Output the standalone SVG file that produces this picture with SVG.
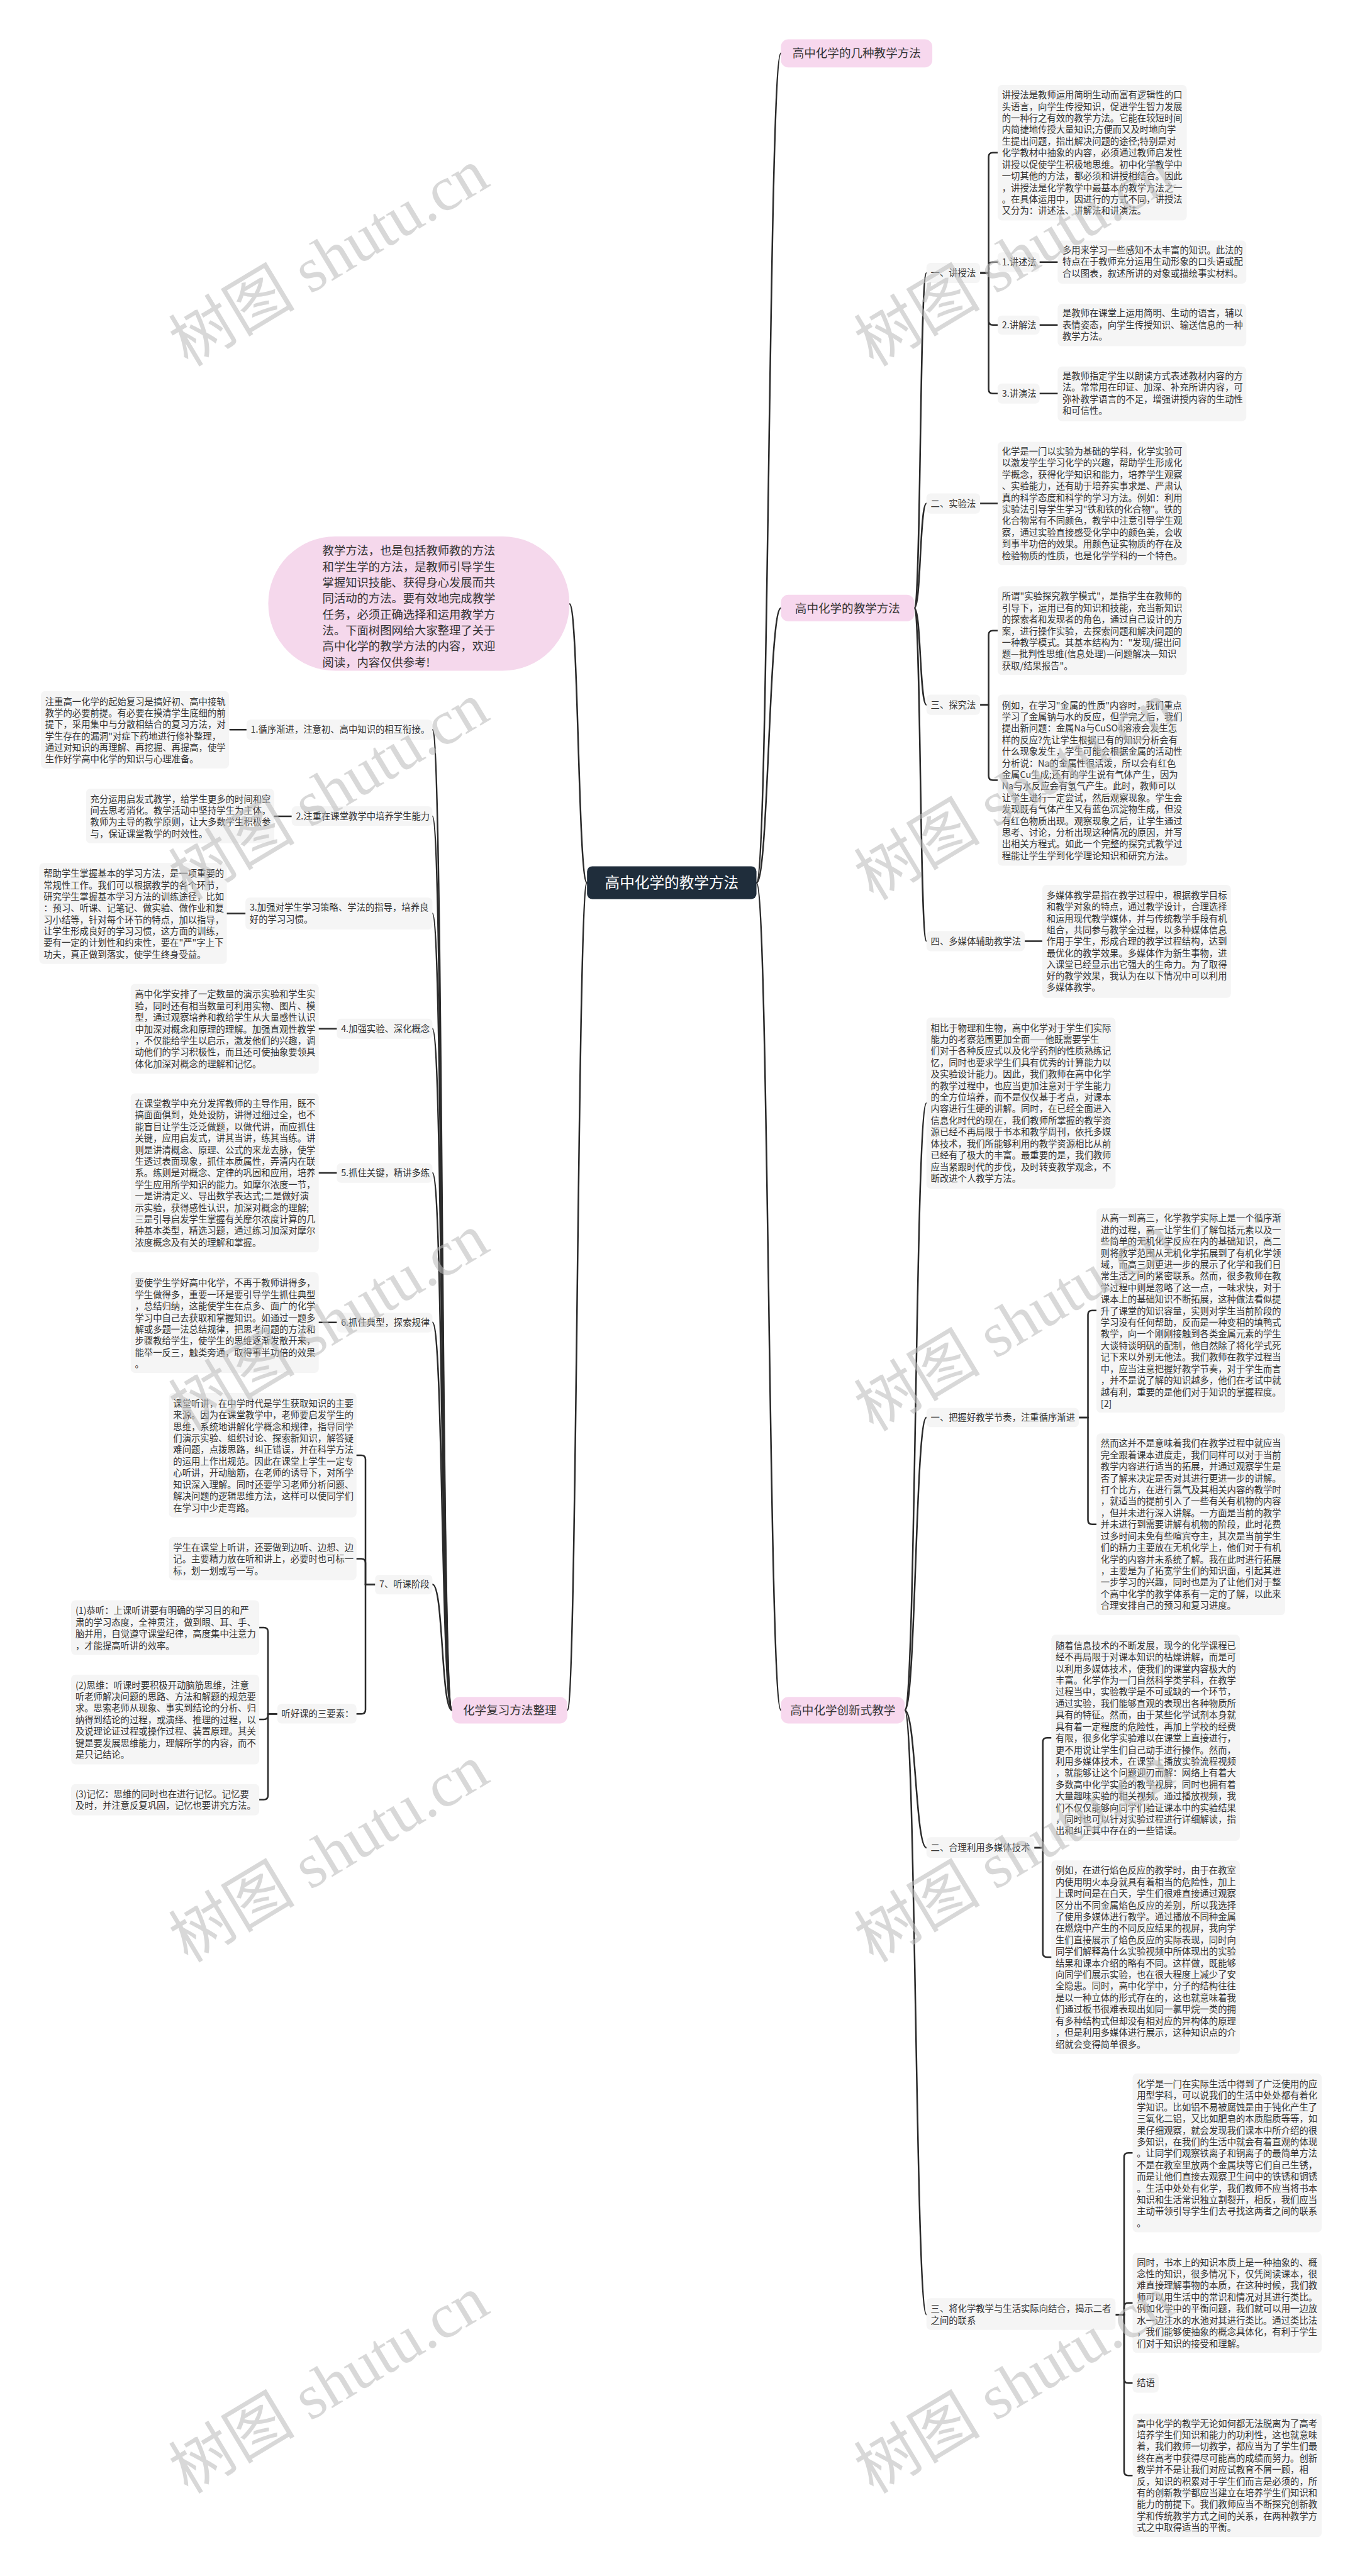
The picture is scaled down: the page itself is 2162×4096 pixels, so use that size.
<svg xmlns="http://www.w3.org/2000/svg" width="2162" height="4096" viewBox="0 0 2162 4096">
<style>
.t{font-family:"Noto Sans CJK SC","Noto Sans",sans-serif;font-size:17px;fill:#333}
.b{fill:#f5f5f5}
.c{fill:none;stroke:#2b2b2b;stroke-width:3;stroke-linecap:round}
.pk{fill:#f7d8ee}
.mt{font-family:"Noto Sans CJK SC","Noto Sans",sans-serif;font-size:22px;fill:#333;text-anchor:middle}
.wm{font-family:"Liberation Serif","Noto Sans CJK SC",serif;font-size:119px;fill:#bcbcbc;fill-opacity:0.58;text-anchor:middle}
</style>
<rect width="2162" height="4096" fill="#fff"/>
<g transform="scale(0.8445)">
<g id="connectors">
<path class="c" d="M1424,1662 C1447,1662 1447,100 1470,100"/>
<path class="c" d="M1424,1662 C1447,1662 1447,1145 1470,1145"/>
<path class="c" d="M1424,1662 C1447,1662 1447,3220 1470,3220"/>
<path class="c" d="M1105,1662 C1088,1662 1089,1137 1072,1137"/>
<path class="c" d="M1105,1662 C1087,1662 1086,3220 1068,3220"/>
<path class="c" d="M1721,1145 C1734,1145 1731,514 1744,514"/>
<path class="c" d="M1721,1145 C1734,1145 1731,948 1744,948"/>
<path class="c" d="M1721,1145 C1734,1145 1731,1327 1744,1327"/>
<path class="c" d="M1721,1145 C1734,1145 1731,1772 1744,1772"/>
<path class="c" d="M1845,514 H1861 V295.5 Q1861,287.5 1869,287.5 H1878"/>
<path class="c" d="M1845,514 H1861 V501.5 Q1861,493.5 1869,493.5 H1878"/>
<path class="c" d="M1845,514 H1861 V604 Q1861,612 1869,612 H1878"/>
<path class="c" d="M1845,514 H1861 V733 Q1861,741 1869,741 H1878"/>
<path class="c" d="M1957,493.5 H1991 M1957,612 H1991 M1957,741 H1991"/>
<path class="c" d="M1845,948 H1878"/>
<path class="c" d="M1845,1327 H1861 V1195.5 Q1861,1187.5 1869,1187.5 H1878"/>
<path class="c" d="M1845,1327 H1861 V1461 Q1861,1469 1869,1469 H1878"/>
<path class="c" d="M1929,1772 H1962"/>
<path class="c" d="M1703,3220 C1724,3220 1723,2077 1744,2077"/>
<path class="c" d="M1703,3220 C1724,3220 1723,2669 1744,2669"/>
<path class="c" d="M1703,3220 C1724,3220 1723,3479 1744,3479"/>
<path class="c" d="M1703,3220 C1724,3220 1723,4358 1744,4358"/>
<path class="c" d="M2031,2669 H2048 V2475.5 Q2048,2467.5 2056,2467.5 H2064"/>
<path class="c" d="M2031,2669 H2048 V2862 Q2048,2870 2056,2870 H2064"/>
<path class="c" d="M1947,3479 H1963 V3280 Q1963,3272 1971,3272 H1979"/>
<path class="c" d="M1947,3479 H1963 V3677 Q1963,3685 1971,3685 H1979"/>
<path class="c" d="M2100,4358 H2116 V4061.5 Q2116,4053.5 2124,4053.5 H2132"/>
<path class="c" d="M2100,4358 H2116 V4344 Q2116,4336 2124,4336 H2132"/>
<path class="c" d="M2100,4358 H2116 V4479 Q2116,4487 2124,4487 H2132"/>
<path class="c" d="M2100,4358 H2116 V4653 Q2116,4661 2124,4661 H2132"/>
<path class="c" d="M851,3220 C830,3220 835,1374 814,1374"/>
<path class="c" d="M851,3220 C830,3220 835,1537 814,1537"/>
<path class="c" d="M851,3220 C830,3220 835,1720 814,1720"/>
<path class="c" d="M851,3220 C830,3220 835,1937 814,1937"/>
<path class="c" d="M851,3220 C830,3220 835,2208.5 814,2208.5"/>
<path class="c" d="M851,3220 C830,3220 835,2490 814,2490"/>
<path class="c" d="M851,3220 C830,3220 835,2983 814,2983"/>
<path class="c" d="M464,1374 H433 M549,1537 H516 M462,1720 H427 M634,1937 H600 M634,2208.5 H600 M634,2490 H600"/>
<path class="c" d="M706,2983 H688 V2748 Q688,2740 680,2740 H671"/>
<path class="c" d="M706,2983 H688 V2943 Q688,2935 680,2935 H671"/>
<path class="c" d="M706,2983 H688 V3219 Q688,3227 680,3227 H671"/>
<path class="c" d="M522,3227 H504.5 V3072.5 Q504.5,3064.5 496.5,3064.5 H488"/>
<path class="c" d="M522,3227 H504.5 V3229.5 Q504.5,3237.5 496.5,3237.5 H488"/>
<path class="c" d="M522,3227 H504.5 V3380.5 Q504.5,3388.5 496.5,3388.5 H488"/>
</g>

<g id="root"><rect x="1105" y="1631" width="319" height="62" rx="10" fill="#1f2d3b"/><text x="1264.5" y="1672" style="font-family:'Noto Sans CJK SC',sans-serif;font-size:28px;fill:#fff;text-anchor:middle">高中化学的教学方法</text></g>
<g id="intro"><rect x="505" y="1010" width="567" height="253" rx="126" fill="#f5d8ec"/>
<text style="font-family:'Noto Sans CJK SC',sans-serif;font-size:21.7px;fill:#333" x="607" y="1044.7"><tspan x="607">教学方法，也是包括教师教的方法</tspan><tspan x="607" dy="30">和学生学的方法，是教师引导学生</tspan><tspan x="607" dy="30">掌握知识技能、获得身心发展而共</tspan><tspan x="607" dy="30">同活动的方法。要有效地完成教学</tspan><tspan x="607" dy="30">任务，必须正确选择和运用教学方</tspan><tspan x="607" dy="30">法。下面树图网给大家整理了关于</tspan><tspan x="607" dy="30">高中化学的教学方法的内容，欢迎</tspan><tspan x="607" dy="30">阅读，内容仅供参考!</tspan></text></g>

<g id="mainA"><rect class="pk" x="1470" y="74" width="285" height="53" rx="14"/><text class="mt" x="1612.5" y="108">高中化学的几种教学方法</text></g>
<g id="mainB"><rect class="pk" x="1470" y="1120" width="251" height="50" rx="14"/><text class="mt" x="1595.5" y="1153">高中化学的教学方法</text></g>
<g id="mainC"><rect class="pk" x="851" y="3195" width="217" height="50" rx="14"/><text class="mt" x="959.5" y="3228">化学复习方法整理</text></g>
<g id="mainD"><rect class="pk" x="1470" y="3195" width="233" height="50" rx="14"/><text class="mt" x="1586.5" y="3228">高中化学创新式教学</text></g>

<g id="n-jsf"><rect class="b" x="1744" y="495" width="101" height="38" rx="8"/><text class="t" x="1752" y="520">一、讲授法</text></g>
<g id="n-jsf-d"><rect class="b" x="1878" y="160" width="356" height="255" rx="8"/><text class="t" x="1886" y="185"><tspan x="1886">讲授法是教师运用简明生动而富有逻辑性的口</tspan><tspan x="1886" dy="21.8">头语言，向学生传授知识，促进学生智力发展</tspan><tspan x="1886" dy="21.8">的一种行之有效的教学方法。它能在较短时间</tspan><tspan x="1886" dy="21.8">内简捷地传授大量知识;方便而又及时地向学</tspan><tspan x="1886" dy="21.8">生提出问题，指出解决问题的途径;特别是对</tspan><tspan x="1886" dy="21.8">化学教材中抽象的内容，必须通过教师启发性</tspan><tspan x="1886" dy="21.8">讲授以促使学生积极地思维。初中化学教学中</tspan><tspan x="1886" dy="21.8">一切其他的方法，都必须和讲授相结合。因此</tspan><tspan x="1886" dy="21.8">，讲授法是化学教学中最基本的教学方法之一</tspan><tspan x="1886" dy="21.8">。在具体运用中，因进行的方式不同，讲授法</tspan><tspan x="1886" dy="21.8">又分为：讲述法、讲解法和讲演法。</tspan></text></g>
<g id="n-js1"><rect class="b" x="1878" y="475" width="79" height="37" rx="8"/><text class="t" x="1886" y="499.5">1.讲述法</text></g>
<g id="n-js1-d"><rect class="b" x="1991" y="453" width="355" height="81" rx="8"/><text class="t" x="2000" y="477"><tspan x="2000">多用来学习一些感知不太丰富的知识。此法的</tspan><tspan x="2000" dy="21.8">特点在于教师充分运用生动形象的口头语或配</tspan><tspan x="2000" dy="21.8">合以图表，叙述所讲的对象或描绘事实材料。</tspan></text></g>
<g id="n-js2"><rect class="b" x="1878" y="594" width="79" height="36" rx="8"/><text class="t" x="1886" y="618">2.讲解法</text></g>
<g id="n-js2-d"><rect class="b" x="1991" y="572" width="355" height="80" rx="8"/><text class="t" x="2000" y="596"><tspan x="2000">是教师在课堂上运用简明、生动的语言，辅以</tspan><tspan x="2000" dy="21.8">表情姿态，向学生传授知识、输送信息的一种</tspan><tspan x="2000" dy="21.8">教学方法。</tspan></text></g>
<g id="n-js3"><rect class="b" x="1878" y="722" width="79" height="38" rx="8"/><text class="t" x="1886" y="747">3.讲演法</text></g>
<g id="n-js3-d"><rect class="b" x="1991" y="690" width="355" height="103" rx="8"/><text class="t" x="2000" y="714"><tspan x="2000">是教师指定学生以朗读方式表述教材内容的方</tspan><tspan x="2000" dy="21.8">法。常常用在印证、加深、补充所讲内容，可</tspan><tspan x="2000" dy="21.8">弥补教学语言的不足，增强讲授内容的生动性</tspan><tspan x="2000" dy="21.8">和可信性。</tspan></text></g>

<g id="n-syf"><rect class="b" x="1744" y="929" width="101" height="38" rx="8"/><text class="t" x="1752" y="954">二、实验法</text></g>
<g id="n-syf-d"><rect class="b" x="1878" y="832" width="356" height="232" rx="8"/><text class="t" x="1886" y="856"><tspan x="1886">化学是一门以实验为基础的学科，化学实验可</tspan><tspan x="1886" dy="21.8">以激发学生学习化学的兴趣，帮助学生形成化</tspan><tspan x="1886" dy="21.8">学概念，获得化学知识和能力，培养学生观察</tspan><tspan x="1886" dy="21.8">、实验能力，还有助于培养实事求是、严肃认</tspan><tspan x="1886" dy="21.8">真的科学态度和科学的学习方法。例如：利用</tspan><tspan x="1886" dy="21.8">实验法引导学生学习"铁和铁的化合物"。铁的</tspan><tspan x="1886" dy="21.8">化合物常有不同颜色，教学中注意引导学生观</tspan><tspan x="1886" dy="21.8">察，通过实验直接感受化学中的颜色美，会收</tspan><tspan x="1886" dy="21.8">到事半功倍的效果。用颜色证实物质的存在及</tspan><tspan x="1886" dy="21.8">检验物质的性质，也是化学学科的一个特色。</tspan></text></g>

<g id="n-tjf"><rect class="b" x="1744" y="1308" width="101" height="38" rx="8"/><text class="t" x="1752" y="1333">三、探究法</text></g>
<g id="n-tjf-a"><rect class="b" x="1878" y="1104" width="356" height="167" rx="8"/><text class="t" x="1886" y="1129"><tspan x="1886">所谓"实验探究教学模式"，是指学生在教师的</tspan><tspan x="1886" dy="21.8">引导下，运用已有的知识和技能，充当新知识</tspan><tspan x="1886" dy="21.8">的探索者和发现者的角色，通过自己设计的方</tspan><tspan x="1886" dy="21.8">案，进行操作实验，去探索问题和解决问题的</tspan><tspan x="1886" dy="21.8">一种教学模式。其基本结构为："发现/提出问</tspan><tspan x="1886" dy="21.8">题—批判性思维(信息处理)—问题解决—知识</tspan><tspan x="1886" dy="21.8">获取/结果报告"。</tspan></text></g>
<g id="n-tjf-b"><rect class="b" x="1878" y="1308" width="356" height="322" rx="8"/><text class="t" x="1886" y="1334"><tspan x="1886">例如，在学习"金属的性质"内容时，我们重点</tspan><tspan x="1886" dy="21.8">学习了金属钠与水的反应，但学完之后，我们</tspan><tspan x="1886" dy="21.8">提出新问题：金属Na与CuSO4溶液会发生怎</tspan><tspan x="1886" dy="21.8">样的反应?先让学生根据已有的知识分析会有</tspan><tspan x="1886" dy="21.8">什么现象发生，学生可能会根据金属的活动性</tspan><tspan x="1886" dy="21.8">分析说：Na的金属性很活泼，所以会有红色</tspan><tspan x="1886" dy="21.8">金属Cu生成;还有的学生说有气体产生，因为</tspan><tspan x="1886" dy="21.8">Na与水反应会有氢气产生。此时，教师可以</tspan><tspan x="1886" dy="21.8">让学生进行一定尝试，然后观察现象。学生会</tspan><tspan x="1886" dy="21.8">发现既有气体产生又有蓝色沉淀物生成，但没</tspan><tspan x="1886" dy="21.8">有红色物质出现。观察现象之后，让学生通过</tspan><tspan x="1886" dy="21.8">思考、讨论，分析出现这种情况的原因，并写</tspan><tspan x="1886" dy="21.8">出相关方程式。如此一个完整的探究式教学过</tspan><tspan x="1886" dy="21.8">程能让学生学到化学理论知识和研究方法。</tspan></text></g>

<g id="n-dmt"><rect class="b" x="1744" y="1753" width="185" height="38" rx="8"/><text class="t" x="1752" y="1778">四、多媒体辅助教学法</text></g>
<g id="n-dmt-d"><rect class="b" x="1962" y="1666" width="355" height="213" rx="8"/><text class="t" x="1970" y="1692"><tspan x="1970">多媒体教学是指在教学过程中，根据教学目标</tspan><tspan x="1970" dy="21.7">和教学对象的特点，通过教学设计，合理选择</tspan><tspan x="1970" dy="21.7">和运用现代教学媒体，并与传统教学手段有机</tspan><tspan x="1970" dy="21.7">组合，共同参与教学全过程，以多种媒体信息</tspan><tspan x="1970" dy="21.7">作用于学生，形成合理的教学过程结构，达到</tspan><tspan x="1970" dy="21.7">最优化的教学效果。多媒体作为新生事物，进</tspan><tspan x="1970" dy="21.7">入课堂已经显示出它强大的生命力。为了取得</tspan><tspan x="1970" dy="21.7">好的教学效果，我认为在以下情况中可以利用</tspan><tspan x="1970" dy="21.7">多媒体教学。</tspan></text></g>

<g id="n-xby"><rect class="b" x="1744" y="1916" width="356" height="322" rx="8"/><text class="t" x="1752" y="1941.5"><tspan x="1752">相比于物理和生物，高中化学对于学生们实际</tspan><tspan x="1752" dy="21.8">能力的考察范围更加全面——他既需要学生</tspan><tspan x="1752" dy="21.8">们对于各种反应式以及化学药剂的性质熟练记</tspan><tspan x="1752" dy="21.8">忆，同时也要求学生们具有优秀的计算能力以</tspan><tspan x="1752" dy="21.8">及实验设计能力。因此，我们教师在高中化学</tspan><tspan x="1752" dy="21.8">的教学过程中，也应当更加注意对于学生能力</tspan><tspan x="1752" dy="21.8">的全方位培养，而不是仅仅基于考点，对课本</tspan><tspan x="1752" dy="21.8">内容进行生硬的讲解。同时，在已经全面进入</tspan><tspan x="1752" dy="21.8">信息化时代的现在，我们教师所掌握的教学资</tspan><tspan x="1752" dy="21.8">源已经不再局限于书本和教学周刊，依托多媒</tspan><tspan x="1752" dy="21.8">体技术，我们所能够利用的教学资源相比从前</tspan><tspan x="1752" dy="21.8">已经有了极大的丰富。最重要的是，我们教师</tspan><tspan x="1752" dy="21.8">应当紧跟时代的步伐，及时转变教学观念，不</tspan><tspan x="1752" dy="21.8">断改进个人教学方法。</tspan></text></g>

<g id="n-bw"><rect class="b" x="1744" y="2651" width="287" height="36" rx="8"/><text class="t" x="1752" y="2675">一、把握好教学节奏，注重循序渐进</text></g>
<g id="n-bw-a"><rect class="b" x="2064" y="2275" width="355" height="385" rx="8"/><text class="t" x="2072" y="2300"><tspan x="2072">从高一到高三，化学教学实际上是一个循序渐</tspan><tspan x="2072" dy="21.8">进的过程，高一让学生们了解包括元素以及一</tspan><tspan x="2072" dy="21.8">些简单的无机化学反应在内的基础知识，高二</tspan><tspan x="2072" dy="21.8">则将教学范围从无机化学拓展到了有机化学领</tspan><tspan x="2072" dy="21.8">域，而高三则更进一步的展示了化学和我们日</tspan><tspan x="2072" dy="21.8">常生活之间的紧密联系。然而，很多教师在教</tspan><tspan x="2072" dy="21.8">学过程中则是忽略了这一点，一味求快，对于</tspan><tspan x="2072" dy="21.8">课本上的基础知识不断拓展，这种做法看似提</tspan><tspan x="2072" dy="21.8">升了课堂的知识容量，实则对学生当前阶段的</tspan><tspan x="2072" dy="21.8">学习没有任何帮助，反而是一种变相的填鸭式</tspan><tspan x="2072" dy="21.8">教学，向一个刚刚接触到各类金属元素的学生</tspan><tspan x="2072" dy="21.8">大谈特谈明矾的配制，他自然除了将化学式死</tspan><tspan x="2072" dy="21.8">记下来以外别无他法。我们教师在教学过程当</tspan><tspan x="2072" dy="21.8">中，应当注意把握好教学节奏，对于学生而言</tspan><tspan x="2072" dy="21.8">，并不是说了解的知识越多，他们在考试中就</tspan><tspan x="2072" dy="21.8">越有利，重要的是他们对于知识的掌握程度。</tspan><tspan x="2072" dy="21.8">[2]</tspan></text></g>
<g id="n-bw-b"><rect class="b" x="2064" y="2699" width="355" height="342" rx="8"/><text class="t" x="2072" y="2724"><tspan x="2072">然而这并不是意味着我们在教学过程中就应当</tspan><tspan x="2072" dy="21.8">完全跟着课本进度走，我们同样可以对于当前</tspan><tspan x="2072" dy="21.8">教学内容进行适当的拓展，并通过观察学生是</tspan><tspan x="2072" dy="21.8">否了解来决定是否对其进行更进一步的讲解。</tspan><tspan x="2072" dy="21.8">打个比方，在进行氯气及其相关内容的教学时</tspan><tspan x="2072" dy="21.8">，就适当的提前引入了一些有关有机物的内容</tspan><tspan x="2072" dy="21.8">，但并未进行深入讲解。一方面是当前的教学</tspan><tspan x="2072" dy="21.8">并未进行到需要讲解有机物的阶段，此时花费</tspan><tspan x="2072" dy="21.8">过多时间未免有些喧宾夺主，其次是当前学生</tspan><tspan x="2072" dy="21.8">们的精力主要放在无机化学上，他们对于有机</tspan><tspan x="2072" dy="21.8">化学的内容并未系统了解。我在此时进行拓展</tspan><tspan x="2072" dy="21.8">，主要是为了拓宽学生们的知识面，引起其进</tspan><tspan x="2072" dy="21.8">一步学习的兴趣，同时也是为了让他们对于整</tspan><tspan x="2072" dy="21.8">个高中化学的教学体系有一定的了解，以此来</tspan><tspan x="2072" dy="21.8">合理安排自己的预习和复习进度。</tspan></text></g>

<g id="n-dm"><rect class="b" x="1744" y="3459" width="203" height="39" rx="8"/><text class="t" x="1752" y="3485">二、合理利用多媒体技术</text></g>
<g id="n-dm-a"><rect class="b" x="1979" y="3078" width="355" height="388" rx="8"/><text class="t" x="1987" y="3104.6"><tspan x="1987">随着信息技术的不断发展，现今的化学课程已</tspan><tspan x="1987" dy="21.8">经不再局限于对课本知识的枯燥讲解，而是可</tspan><tspan x="1987" dy="21.8">以利用多媒体技术，使我们的课堂内容极大的</tspan><tspan x="1987" dy="21.8">丰富。化学作为一门自然科学类学科，在教学</tspan><tspan x="1987" dy="21.8">过程当中，实验教学是不可或缺的一个环节，</tspan><tspan x="1987" dy="21.8">通过实验，我们能够直观的表现出各种物质所</tspan><tspan x="1987" dy="21.8">具有的特征。然而，由于某些化学试剂本身就</tspan><tspan x="1987" dy="21.8">具有着一定程度的危险性，再加上学校的经费</tspan><tspan x="1987" dy="21.8">有限，很多化学实验难以在课堂上直接进行，</tspan><tspan x="1987" dy="21.8">更不用说让学生们自己动手进行操作。然而，</tspan><tspan x="1987" dy="21.8">利用多媒体技术，在课堂上播放实验流程视频</tspan><tspan x="1987" dy="21.8">，就能够让这个问题迎刃而解：网络上有着大</tspan><tspan x="1987" dy="21.8">多数高中化学实验的教学视屏，同时也拥有着</tspan><tspan x="1987" dy="21.8">大量趣味实验的相关视频。通过播放视频，我</tspan><tspan x="1987" dy="21.8">们不仅仅能够向同学们验证课本中的实验结果</tspan><tspan x="1987" dy="21.8">，同时也可以针对实验过程进行详细解读，指</tspan><tspan x="1987" dy="21.8">出和纠正其中存在的一些错误。</tspan></text></g>
<g id="n-dm-b"><rect class="b" x="1979" y="3503" width="355" height="364" rx="8"/><text class="t" x="1987" y="3528"><tspan x="1987">例如，在进行焰色反应的教学时，由于在教室</tspan><tspan x="1987" dy="21.8">内使用明火本身就具有着相当的危险性，加上</tspan><tspan x="1987" dy="21.8">上课时间是在白天，学生们很难直接通过观察</tspan><tspan x="1987" dy="21.8">区分出不同金属焰色反应的差别，所以我选择</tspan><tspan x="1987" dy="21.8">了使用多媒体进行教学。通过播放不同种金属</tspan><tspan x="1987" dy="21.8">在燃烧中产生的不同反应结果的视屏，我向学</tspan><tspan x="1987" dy="21.8">生们直接展示了焰色反应的实际表现，同时向</tspan><tspan x="1987" dy="21.8">同学们解释為什么实验视频中所体现出的实验</tspan><tspan x="1987" dy="21.8">结果和课本介绍的略有不同。这样做，既能够</tspan><tspan x="1987" dy="21.8">向同学们展示实验，也在很大程度上减少了安</tspan><tspan x="1987" dy="21.8">全隐患。同时，高中化学中，分子的结构往往</tspan><tspan x="1987" dy="21.8">是以一种立体的形式存在的，这也就意味着我</tspan><tspan x="1987" dy="21.8">们通过板书很难表现出如同一氯甲烷一类的拥</tspan><tspan x="1987" dy="21.8">有多种结构式但却没有相对应的异构体的原理</tspan><tspan x="1987" dy="21.8">，但是利用多媒体进行展示，这种知识点的介</tspan><tspan x="1987" dy="21.8">绍就会变得简单很多。</tspan></text></g>

<g id="n-sh"><rect class="b" x="1744" y="4327" width="356" height="60" rx="8"/><text class="t" x="1752" y="4353"><tspan x="1752">三、将化学教学与生活实际向结合，揭示二者</tspan><tspan x="1752" dy="21.8">之间的联系</tspan></text></g>
<g id="n-sh-a"><rect class="b" x="2132" y="3904" width="356" height="299" rx="8"/><text class="t" x="2140" y="3930"><tspan x="2140">化学是一门在实际生活中得到了广泛使用的应</tspan><tspan x="2140" dy="21.8">用型学科，可以说我们的生活中处处都有着化</tspan><tspan x="2140" dy="21.8">学知识。比如铝不易被腐蚀是由于钝化产生了</tspan><tspan x="2140" dy="21.8">三氧化二铝，又比如肥皂的本质脂质等等，如</tspan><tspan x="2140" dy="21.8">果仔细观察，就会发现我们课本中所介绍的很</tspan><tspan x="2140" dy="21.8">多知识，在我们的生活中就会有着直观的体现</tspan><tspan x="2140" dy="21.8">。让同学们观察铁离子和铜离子的最简单方法</tspan><tspan x="2140" dy="21.8">不是在教室里放两个金属块等它们自己生锈，</tspan><tspan x="2140" dy="21.8">而是让他们直接去观察卫生间中的铁锈和铜锈</tspan><tspan x="2140" dy="21.8">。生活中处处有化学，我们教师不应当将书本</tspan><tspan x="2140" dy="21.8">知识和生活常识独立割裂开，相反，我们应当</tspan><tspan x="2140" dy="21.8">主动带领引导学生们去寻找这两者之间的联系</tspan><tspan x="2140" dy="21.8">。</tspan></text></g>
<g id="n-sh-b"><rect class="b" x="2132" y="4241.5" width="356" height="188.5" rx="8"/><text class="t" x="2140" y="4266"><tspan x="2140">同时，书本上的知识本质上是一种抽象的、概</tspan><tspan x="2140" dy="21.8">念性的知识，很多情况下，仅凭阅读课本，很</tspan><tspan x="2140" dy="21.8">难直接理解事物的本质，在这种时候，我们教</tspan><tspan x="2140" dy="21.8">师可以用生活中的常识和情况对其进行类比。</tspan><tspan x="2140" dy="21.8">例如化学中的平衡问题，我们就可以用一边放</tspan><tspan x="2140" dy="21.8">水一边注水的水池对其进行类比。通过类比法</tspan><tspan x="2140" dy="21.8">，我们能够使抽象的概念具体化，有利于学生</tspan><tspan x="2140" dy="21.8">们对于知识的接受和理解。</tspan></text></g>
<g id="n-sh-c"><rect class="b" x="2132" y="4469" width="49" height="36" rx="8"/><text class="t" x="2140" y="4493">结语</text></g>
<g id="n-sh-d"><rect class="b" x="2132" y="4544.5" width="356" height="232.5" rx="8"/><text class="t" x="2140" y="4569"><tspan x="2140">高中化学的教学无论如何都无法脱离为了高考</tspan><tspan x="2140" dy="21.8">培养学生们知识和能力的功利性，这也就意味</tspan><tspan x="2140" dy="21.8">着，我们教师一切教学，都应当为了学生们最</tspan><tspan x="2140" dy="21.8">终在高考中获得尽可能高的成绩而努力。创新</tspan><tspan x="2140" dy="21.8">教学并不是让我们对应试教育不屑一顾，相</tspan><tspan x="2140" dy="21.8">反，知识的积累对于学生们而言是必须的，所</tspan><tspan x="2140" dy="21.8">有的创新教学都应当建立在培养学生们知识和</tspan><tspan x="2140" dy="21.8">能力的前提下。我们教师应当不断探究创新教</tspan><tspan x="2140" dy="21.8">学和传统教学方式之间的关系，在两种教学方</tspan><tspan x="2140" dy="21.8">式之中取得适当的平衡。</tspan></text></g>

<g id="l1"><rect class="b" x="464" y="1355" width="350" height="38" rx="8"/><text class="t" x="472" y="1380">1.循序渐进，注意初、高中知识的相互衔接。</text></g>
<g id="l1-d"><rect class="b" x="77" y="1301" width="354" height="146" rx="8"/><text class="t" x="85" y="1327"><tspan x="85">注重高一化学的起始复习是搞好初、高中接轨</tspan><tspan x="85" dy="21.7">教学的必要前提。有必要在摸清学生底细的前</tspan><tspan x="85" dy="21.7">提下，采用集中与分散相结合的复习方法，对</tspan><tspan x="85" dy="21.7">学生存在的漏洞"对症下药地进行修补整理，</tspan><tspan x="85" dy="21.7">通过对知识的再理解、再挖掘、再提高，使学</tspan><tspan x="85" dy="21.7">生作好学高中化学的知识与心理准备。</tspan></text></g>
<g id="l2"><rect class="b" x="549" y="1518" width="265" height="37" rx="8"/><text class="t" x="557" y="1543">2.注重在课堂教学中培养学生能力</text></g>
<g id="l2-d"><rect class="b" x="162" y="1485" width="354" height="103" rx="8"/><text class="t" x="170" y="1510.5"><tspan x="170">充分运用启发式教学，给学生更多的时间和空</tspan><tspan x="170" dy="21.8">间去思考消化。教学活动中坚持学生为主体，</tspan><tspan x="170" dy="21.8">教师为主导的教学原则，让大多数学生积极参</tspan><tspan x="170" dy="21.8">与，保证课堂教学的时效性。</tspan></text></g>
<g id="l3"><rect class="b" x="462" y="1690" width="352" height="60" rx="8"/><text class="t" x="470" y="1714.6"><tspan x="470">3.加强对学生学习策略、学法的指导，培养良</tspan><tspan x="470" dy="22.4">好的学习习惯。</tspan></text></g>
<g id="l3-d"><rect class="b" x="74" y="1625" width="353" height="190" rx="8"/><text class="t" x="82" y="1651"><tspan x="82">帮助学生掌握基本的学习方法，是一项重要的</tspan><tspan x="82" dy="21.7">常规性工作。我们可以根据教学的各个环节，</tspan><tspan x="82" dy="21.7">研究学生掌握基本学习方法的训练途径，比如</tspan><tspan x="82" dy="21.7">：预习、听课、记笔记、做实验、做作业和复</tspan><tspan x="82" dy="21.7">习小结等，针对每个环节的特点，加以指导，</tspan><tspan x="82" dy="21.7">让学生形成良好的学习习惯，这方面的训练，</tspan><tspan x="82" dy="21.7">要有一定的计划性和约束性，要在"严"字上下</tspan><tspan x="82" dy="21.7">功夫，真正做到落实，使学生终身受益。</tspan></text></g>
<g id="l4"><rect class="b" x="634" y="1918" width="180" height="38" rx="8"/><text class="t" x="642" y="1943.6">4.加强实验、深化概念</text></g>
<g id="l4-d"><rect class="b" x="246" y="1852.5" width="354" height="169" rx="8"/><text class="t" x="254" y="1878.5"><tspan x="254">高中化学安排了一定数量的演示实验和学生实</tspan><tspan x="254" dy="21.8">验，同时还有相当数量可利用实物、图片、模</tspan><tspan x="254" dy="21.8">型，通过观察培养和教给学生从大量感性认识</tspan><tspan x="254" dy="21.8">中加深对概念和原理的理解。加强直观性教学</tspan><tspan x="254" dy="21.8">，不仅能给学生以启示，激发他们的兴趣，调</tspan><tspan x="254" dy="21.8">动他们的学习积极性，而且还可使抽象要领具</tspan><tspan x="254" dy="21.8">体化加深对概念的理解和记忆。</tspan></text></g>
<g id="l5"><rect class="b" x="634" y="2190" width="180" height="37" rx="8"/><text class="t" x="642" y="2214.5">5.抓住关键，精讲多练</text></g>
<g id="l5-d"><rect class="b" x="246" y="2058.5" width="354" height="299.5" rx="8"/><text class="t" x="254" y="2084"><tspan x="254">在课堂教学中充分发挥教师的主导作用，既不</tspan><tspan x="254" dy="21.8">搞面面俱到，处处设防，讲得过细过全，也不</tspan><tspan x="254" dy="21.8">能盲目让学生泛泛做题，以做代讲，而应抓住</tspan><tspan x="254" dy="21.8">关键，应用启发式，讲其当讲，练其当练。讲</tspan><tspan x="254" dy="21.8">则是讲清概念、原理、公式的来龙去脉，使学</tspan><tspan x="254" dy="21.8">生透过表面现象，抓住本质属性，弄清内在联</tspan><tspan x="254" dy="21.8">系。练则是对概念、定律的巩固和应用，培养</tspan><tspan x="254" dy="21.8">学生应用所学知识的能力。如摩尔浓度一节，</tspan><tspan x="254" dy="21.8">一是讲清定义、导出数学表达式;二是做好演</tspan><tspan x="254" dy="21.8">示实验，获得感性认识，加深对概念的理解;</tspan><tspan x="254" dy="21.8">三是引导启发学生掌握有关摩尔浓度计算的几</tspan><tspan x="254" dy="21.8">种基本类型，精选习题，通过练习加深对摩尔</tspan><tspan x="254" dy="21.8">浓度概念及有关的理解和掌握。</tspan></text></g>
<g id="l6"><rect class="b" x="634" y="2472" width="180" height="37" rx="8"/><text class="t" x="642" y="2496">6.抓住典型，探索规律</text></g>
<g id="l6-d"><rect class="b" x="246" y="2395.5" width="354" height="189.5" rx="8"/><text class="t" x="254" y="2422"><tspan x="254">要使学生学好高中化学，不再于教师讲得多，</tspan><tspan x="254" dy="21.8">学生做得多，重要一环是要引导学生抓住典型</tspan><tspan x="254" dy="21.8">，总结归纳，这能使学生在点多、面广的化学</tspan><tspan x="254" dy="21.8">学习中自己去获取和掌握知识。如通过一题多</tspan><tspan x="254" dy="21.8">解或多题一法总结规律，把思考问题的方法和</tspan><tspan x="254" dy="21.8">步骤教给学生，使学生的思维逐渐发散开来，</tspan><tspan x="254" dy="21.8">能举一反三，触类旁通，取得事半功倍的效果</tspan><tspan x="254" dy="21.8">。</tspan></text></g>
<g id="l7"><rect class="b" x="706" y="2965" width="108" height="37" rx="8"/><text class="t" x="714" y="2989">7、听课阶段</text></g>
<g id="l7-a"><rect class="b" x="318" y="2623" width="353" height="234" rx="8"/><text class="t" x="326" y="2648.7"><tspan x="326">课堂听讲，在中学时代是学生获取知识的主要</tspan><tspan x="326" dy="21.8">来源。因为在课堂教学中，老师要启发学生的</tspan><tspan x="326" dy="21.8">思维，系统地讲解化学概念和规律，指导同学</tspan><tspan x="326" dy="21.8">们演示实验、组织讨论、探索新知识，解答疑</tspan><tspan x="326" dy="21.8">难问题，点拨思路，纠正错误，并在科学方法</tspan><tspan x="326" dy="21.8">的运用上作出规范。因此在课堂上学生一定专</tspan><tspan x="326" dy="21.8">心听讲，开动脑筋，在老师的诱导下，对所学</tspan><tspan x="326" dy="21.8">知识深入理解。同时还要学习老师分析问题、</tspan><tspan x="326" dy="21.8">解决问题的逻辑思维方法，这样可以使同学们</tspan><tspan x="326" dy="21.8">在学习中少走弯路。</tspan></text></g>
<g id="l7-b"><rect class="b" x="318" y="2894" width="353" height="81" rx="8"/><text class="t" x="326" y="2920"><tspan x="326">学生在课堂上听讲，还要做到边听、边想、边</tspan><tspan x="326" dy="21.8">记。主要精力放在听和讲上，必要时也可标一</tspan><tspan x="326" dy="21.8">标，划一划或写一写。</tspan></text></g>
<g id="l7-c"><rect class="b" x="522" y="3208" width="149" height="37" rx="8"/><text class="t" x="530" y="3233">听好课的三要素：</text></g>
<g id="l7-c1"><rect class="b" x="134" y="3013" width="354" height="103" rx="8"/><text class="t" x="142" y="3039"><tspan x="142">(1)恭听：上课听讲要有明确的学习目的和严</tspan><tspan x="142" dy="21.8">肃的学习态度，全神贯注，做到眼、耳、手、</tspan><tspan x="142" dy="21.8">脑并用，自觉遵守课堂纪律，高度集中注意力</tspan><tspan x="142" dy="21.8">，才能提高听讲的效率。</tspan></text></g>
<g id="l7-c2"><rect class="b" x="134" y="3153" width="354" height="169" rx="8"/><text class="t" x="142" y="3179"><tspan x="142">(2)思维：听课时要积极开动脑筋思维，注意</tspan><tspan x="142" dy="21.8">听老师解决问题的思路、方法和解题的规范要</tspan><tspan x="142" dy="21.8">求。思索老师从现象、事实到结论的分析、归</tspan><tspan x="142" dy="21.8">纳得到结论的过程，或演绎、推理的过程，以</tspan><tspan x="142" dy="21.8">及说理论证过程或操作过程、装置原理。其关</tspan><tspan x="142" dy="21.8">键是要发展思维能力，理解所学的内容，而不</tspan><tspan x="142" dy="21.8">是只记结论。</tspan></text></g>
<g id="l7-c3"><rect class="b" x="134" y="3359" width="354" height="59" rx="8"/><text class="t" x="142" y="3384"><tspan x="142">(3)记忆：思维的同时也在进行记忆。记忆要</tspan><tspan x="142" dy="21.8">及时，并注意反复巩固，记忆也要讲究方法。</tspan></text></g>

<g id="watermarks">
<text class="wm" transform="translate(640,520) rotate(-31)">树图 shutu.cn</text>
<text class="wm" transform="translate(1930,520) rotate(-31)">树图 shutu.cn</text>
<text class="wm" transform="translate(640,1525) rotate(-31)">树图 shutu.cn</text>
<text class="wm" transform="translate(1930,1525) rotate(-31)">树图 shutu.cn</text>
<text class="wm" transform="translate(640,2525) rotate(-31)">树图 shutu.cn</text>
<text class="wm" transform="translate(1930,2525) rotate(-31)">树图 shutu.cn</text>
<text class="wm" transform="translate(640,3525) rotate(-31)">树图 shutu.cn</text>
<text class="wm" transform="translate(1930,3525) rotate(-31)">树图 shutu.cn</text>
<text class="wm" transform="translate(640,4525) rotate(-31)">树图 shutu.cn</text>
<text class="wm" transform="translate(1930,4525) rotate(-31)">树图 shutu.cn</text>
</g>
</g>
</svg>
